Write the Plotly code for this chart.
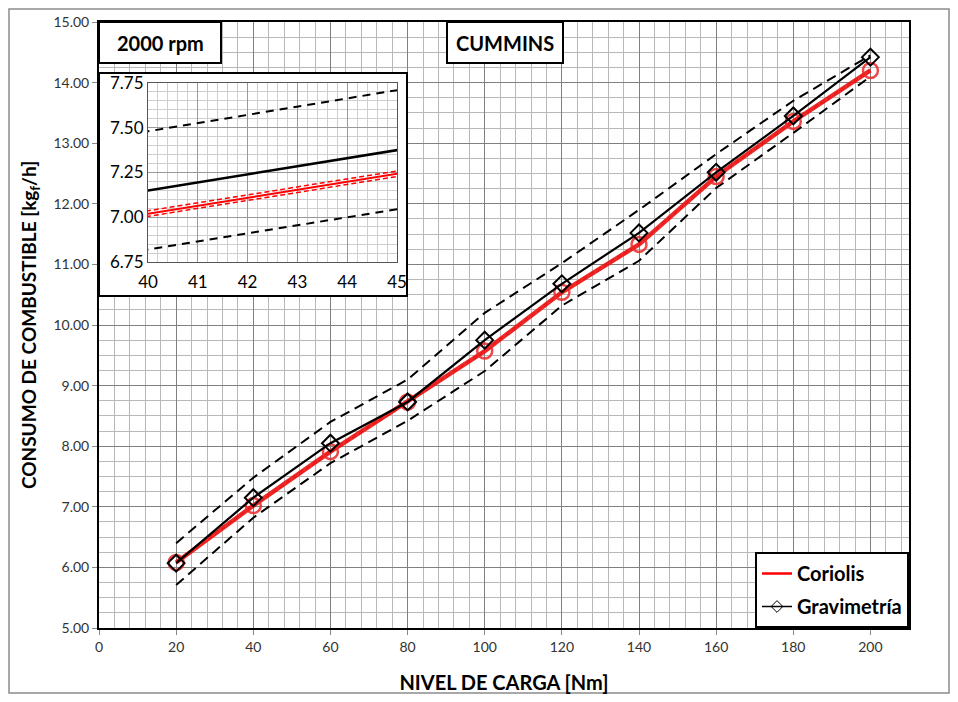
import plotly.graph_objects as go

# ---- data ----
carga = [20, 40, 60, 80, 100, 120, 140, 160, 180, 200]
gravimetria = [6.07, 7.15, 8.05, 8.73, 9.75, 10.68, 11.52, 12.52, 13.45, 14.42]
coriolis = [6.08, 7.02, 7.91, 8.73, 9.57, 10.54, 11.33, 12.45, 13.36, 14.20]
grav_sup = [6.40, 7.48, 8.40, 9.10, 10.20, 11.02, 11.90, 12.82, 13.70, 14.45]
grav_inf = [5.71, 6.82, 7.72, 8.42, 9.24, 10.32, 11.06, 12.26, 13.17, 14.10]
cor_sup = [6.095, 7.036, 7.926, 8.745, 9.585, 10.555, 11.345, 12.465, 13.375, 14.215]
cor_inf = [6.065, 7.005, 7.895, 8.715, 9.555, 10.525, 11.315, 12.435, 13.345, 14.185]

x_ticks = [0, 20, 40, 60, 80, 100, 120, 140, 160, 180, 200]
y_ticks = [5, 6, 7, 8, 9, 10, 11, 12, 13, 14, 15]
inset_x_ticks = [40, 41, 42, 43, 44, 45]
inset_y_ticks = [6.75, 7.00, 7.25, 7.50, 7.75]

FONT = "Lato"
OFF = 8                       # page body margin of the browser
W, H = 958 - 2 * OFF, 702 - 2 * OFF
# plot area in screen pixels
SX0, SX1, SY0, SY1 = 99, 909, 22, 628
L, R = SX0 - OFF, W - (SX1 - OFF)
T, B = SY0 - OFF, H - (SY1 - OFF)
XMAX, YMIN, YMAX = 210, 5, 15


def px_x(sx):  # screen pixel -> main data x
    return (sx - SX0) / (SX1 - SX0) * XMAX


def px_y(sy):  # screen pixel -> main data y
    return YMIN + (SY1 - sy) / (SY1 - SY0) * (YMAX - YMIN)


def pap_x(sx):
    return (sx - SX0) / (SX1 - SX0)


def pap_y(sy):
    return (SY1 - sy) / (SY1 - SY0)


fig = go.Figure()

dash_main = "10px,6px"
# main chart
fig.add_trace(go.Scatter(x=carga, y=grav_sup, mode="lines", showlegend=False,
                         line=dict(color="black", width=2, dash=dash_main), hoverinfo="skip"))
fig.add_trace(go.Scatter(x=carga, y=grav_inf, mode="lines", showlegend=False,
                         line=dict(color="black", width=2, dash=dash_main), hoverinfo="skip"))
fig.add_trace(go.Scatter(x=carga, y=cor_sup, mode="lines", showlegend=False,
                         line=dict(color="red", width=1, dash="5px,3px"), hoverinfo="skip"))
fig.add_trace(go.Scatter(x=carga, y=cor_inf, mode="lines", showlegend=False,
                         line=dict(color="red", width=1, dash="5px,3px"), hoverinfo="skip"))
fig.add_trace(go.Scatter(x=carga, y=coriolis, mode="lines+markers", showlegend=False,
                         line=dict(color="rgba(235,20,20,0.9)", width=4.5),
                         marker=dict(symbol="circle-open", size=15, color="rgba(235,40,40,0.85)",
                                     line=dict(width=2.5))))
fig.add_trace(go.Scatter(x=carga, y=gravimetria, mode="lines+markers", showlegend=False,
                         line=dict(color="black", width=2.2),
                         marker=dict(symbol="diamond-open", size=13, color="black",
                                     line=dict(width=2))))

# legend-only entries
fig.add_trace(go.Scatter(x=[None], y=[None], mode="lines", name="Coriolis", legendgroup="c",
                         line=dict(color="red", width=2.5)))
fig.add_trace(go.Scatter(x=[None], y=[None], mode="lines+markers", name="Gravimetría", legendgroup="g",
                         line=dict(color="black", width=1.5),
                         marker=dict(symbol="diamond-open", size=9, color="black",
                                     line=dict(width=1))))

# inset
dash_in = "8px,6px"
fig.add_trace(go.Scatter(x=carga, y=grav_sup, mode="lines", showlegend=False, xaxis="x2", yaxis="y2",
                         line=dict(color="black", width=2, dash=dash_in), hoverinfo="skip"))
fig.add_trace(go.Scatter(x=carga, y=grav_inf, mode="lines", showlegend=False, xaxis="x2", yaxis="y2",
                         line=dict(color="black", width=2, dash=dash_in), hoverinfo="skip"))
fig.add_trace(go.Scatter(x=carga, y=cor_sup, mode="lines", showlegend=False, xaxis="x2", yaxis="y2",
                         line=dict(color="red", width=1.5, dash="5px,3px"), hoverinfo="skip"))
fig.add_trace(go.Scatter(x=carga, y=cor_inf, mode="lines", showlegend=False, xaxis="x2", yaxis="y2",
                         line=dict(color="red", width=1.5, dash="5px,3px"), hoverinfo="skip"))
fig.add_trace(go.Scatter(x=carga, y=coriolis, mode="lines", showlegend=False, xaxis="x2", yaxis="y2",
                         line=dict(color="red", width=2), hoverinfo="skip"))
fig.add_trace(go.Scatter(x=carga, y=gravimetria, mode="lines", showlegend=False, xaxis="x2", yaxis="y2",
                         line=dict(color="black", width=2.5), hoverinfo="skip"))

minor_grid = "#b8b8b8"
major_grid = "#808080"

fig.update_layout(
    width=W, height=H,
    margin=dict(l=L, r=R, t=T, b=B, autoexpand=False),
    paper_bgcolor="white", plot_bgcolor="white",
    font=dict(family=FONT, color="black"),
    xaxis=dict(range=[0, XMAX], tickvals=x_ticks, showgrid=True, gridcolor=major_grid, gridwidth=1,
               minor=dict(dtick=4, tick0=0, showgrid=True, gridcolor=minor_grid, gridwidth=1),
               showline=True, linecolor="black", linewidth=2, mirror=True,
               ticks="outside", ticklen=5, tickcolor="#888888",
               tickfont=dict(size=14, color="#333333", family=FONT),
               zeroline=False,
               title=dict(text="<b>NIVEL DE CARGA [Nm]</b>", font=dict(size=20, family=FONT), standoff=22)),
    yaxis=dict(range=[YMIN, YMAX], tickvals=y_ticks, tickformat=".2f", showgrid=True,
               gridcolor=major_grid, gridwidth=1,
               minor=dict(dtick=0.25, tick0=5, showgrid=True, gridcolor=minor_grid, gridwidth=1),
               showline=True, linecolor="black", linewidth=2, mirror=True,
               ticks="outside", ticklen=5, tickcolor="#888888",
               tickfont=dict(size=14, color="#333333", family=FONT),
               zeroline=False,
               title=dict(text="<b>CONSUMO DE COMBUSTIBLE [kg<sub>f</sub>/h]</b>",
                          font=dict(size=19, family=FONT), standoff=12)),
    xaxis2=dict(domain=[pap_x(148), pap_x(397)], anchor="y2", range=[40, 45],
                tickvals=inset_x_ticks, showgrid=True, gridcolor="#9a9a9a",
                minor=dict(dtick=0.2, tick0=40, showgrid=True, gridcolor="#cfcfcf"),
                showline=True, linecolor="#555555", linewidth=1, mirror=True,
                ticks="", ticklabelstandoff=5,
                tickfont=dict(size=17, color="black", family=FONT), zeroline=False),
    yaxis2=dict(domain=[pap_y(262), pap_y(83)], anchor="x2", range=[6.75, 7.75],
                tickvals=inset_y_ticks, tickformat=".2f", showgrid=True, gridcolor="#9a9a9a",
                minor=dict(dtick=0.05, tick0=6.75, showgrid=True, gridcolor="#cfcfcf"),
                showline=True, linecolor="#555555", linewidth=1, mirror=True,
                ticks="", tickfont=dict(size=17, color="black", family=FONT), zeroline=False),
    legend=dict(x=1, y=0, xanchor="right", yanchor="bottom", bgcolor="white",
                bordercolor="black", borderwidth=2,
                font=dict(size=20, family=FONT, color="black", weight="bold"),
                itemwidth=30, tracegroupgap=4),
    showlegend=True,
)

shapes = [
    # inset frame (covers main grid)
    dict(type="rect", xref="x", yref="y", x0=0, x1=px_x(407), y0=px_y(296), y1=px_y(73),
         fillcolor="white", line=dict(color="black", width=2), layer="between"),
    # label boxes
    dict(type="rect", xref="x", yref="y", x0=0, x1=px_x(221), y0=px_y(63), y1=YMAX,
         fillcolor="white", line=dict(color="black", width=2), layer="between"),
    dict(type="rect", xref="x", yref="y", x0=px_x(447), x1=px_x(563), y0=px_y(63), y1=YMAX,
         fillcolor="white", line=dict(color="black", width=2), layer="between"),
    # outer chart border
    dict(type="rect", xref="paper", yref="paper", x0=pap_x(9), x1=pap_x(949), y0=pap_y(693), y1=pap_y(9),
         line=dict(color="#8c8c8c", width=1.5), fillcolor="rgba(0,0,0,0)", layer="below"),
]
fig.update_layout(shapes=shapes)

fig.add_annotation(x=px_x(160), y=px_y(43), xref="x", yref="y", text="<b>2000 rpm</b>",
                   showarrow=False, font=dict(size=20, family=FONT, color="black"))
fig.add_annotation(x=px_x(505), y=px_y(43), xref="x", yref="y", text="<b>CUMMINS</b>",
                   showarrow=False, font=dict(size=20, family=FONT, color="black"))

fig.write_html("out.html")
